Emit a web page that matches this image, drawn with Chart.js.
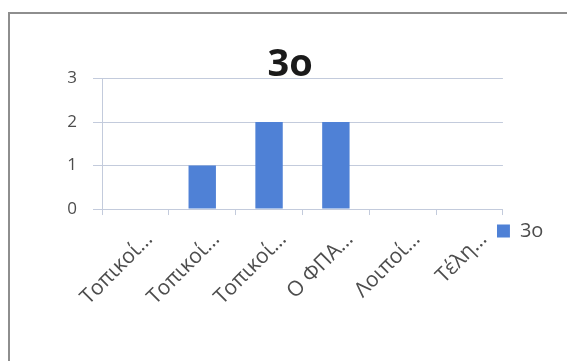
<!DOCTYPE html>
<html>
<head>
<meta charset="utf-8">
<script src="https://cdn.jsdelivr.net/npm/chart.js@4/dist/chart.umd.min.js"></script>
<style>
  html, body { margin: 0; padding: 0; background: #fff; overflow: hidden; }
  #wrap { position: relative; width: 567px; height: 361px; }
  #frame { position: absolute; left: 8px; top: 12px; width: 600px; height: 400px; border: 2px solid #8e8e8e; box-sizing: border-box; }
  canvas { position: absolute; left: 0; top: 0; }
</style>
</head>
<body>
<div id="wrap">
  <div id="frame"></div>
  <canvas id="c" width="567" height="361"></canvas>
</div>
<script>
const categories = ["Τοπικοί…", "Τοπικοί…", "Τοπικοί…", "Ο ΦΠΑ…", "Λοιποί…", "Τέλη…"];
const seriesName = "3o";
const seriesValues = [0, 1, 2, 2, 0, 0];
const yTicks = [0, 1, 2, 3];

const gridColor = "#c3cbdc";
const textColor = "#4d4d4d";

// nudge the legend a few pixels left so its swatch sits just under the axis end, as in the original
const legendNudge = {
  id: "legendNudge",
  afterLayout(chart) {
    const lg = chart.legend;
    if (lg) { lg.left -= 6; lg.right -= 6; }
  }
};

new Chart(document.getElementById("c"), {
  type: "bar",
  plugins: [legendNudge],
  data: {
    labels: categories,
    datasets: [{
      label: seriesName,
      data: seriesValues,
      backgroundColor: "#4f81d6",
      borderWidth: 0,
      categoryPercentage: 1.0,
      barPercentage: 0.41
    }]
  },
  options: {
    responsive: false,
    animation: false,
    devicePixelRatio: 1,
    layout: { padding: { top: 14, left: 21, right: 7.6, bottom: 39 } },
    plugins: {
      title: {
        display: true,
        text: seriesName,
        color: "#1a1a1a",
        font: { family: "'Open Sans'", size: 38, weight: "bold", lineHeight: 1.2 },
        padding: { top: 28, bottom: -9 }
      },
      legend: {
        display: true,
        position: "right",
        align: "start",
        title: { display: true, text: "", font: { size: 1, lineHeight: 1 }, padding: { top: 206, bottom: 0 } },
        labels: {
          boxWidth: 13,
          boxHeight: 13,
          padding: 0,
          color: textColor,
          font: { family: "'Open Sans'", size: 20 }
        }
      },
      tooltip: { enabled: false }
    },
    scales: {
      x: {
        offset: true,
        grid: { display: true, drawOnChartArea: false, drawTicks: true, tickLength: 6, color: gridColor, offset: true },
        border: { display: true, color: gridColor },
        ticks: {
          color: textColor,
          font: { family: "'Open Sans'", size: 21 },
          minRotation: 45,
          maxRotation: 45,
          autoSkip: false,
          padding: 12,
          labelOffset: 14
        }
      },
      y: {
        min: 0,
        max: 3,
        afterBuildTicks: (s) => { s.ticks = yTicks.map(v => ({ value: v })); },
        afterFit: (s) => { s.width = 81; },
        grid: { color: gridColor, tickLength: 9, drawTicks: true },
        border: { display: true, color: gridColor },
        ticks: {
          color: textColor,
          font: { family: "'Open Sans'", size: 17 },
          padding: 16
        }
      }
    }
  }
});
</script>
</body>
</html>
